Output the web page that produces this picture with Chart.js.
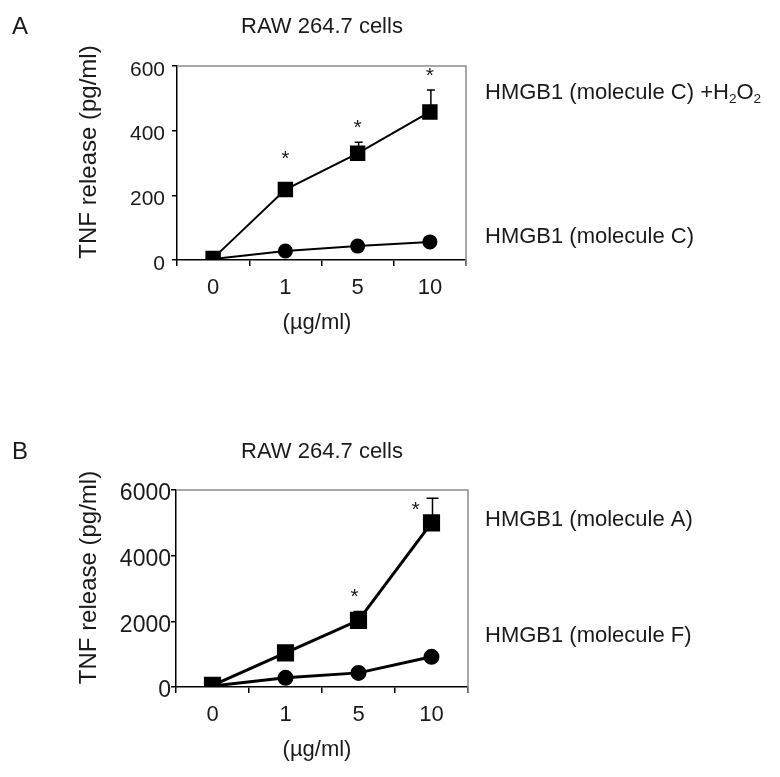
<!DOCTYPE html>
<html>
<head>
<meta charset="utf-8">
<script src="https://cdn.jsdelivr.net/npm/chart.js@4.4.0/dist/chart.umd.min.js"></script>
<style>
body { margin: 0; background: #fff; width: 780px; height: 777px; position: relative; overflow: hidden; }
canvas { position: absolute; left: 0; }
#chartA { top: 0; }
#chartB { top: 390px; }
</style>
</head>
<body>
<canvas id="chartA" width="780" height="390"></canvas>
<canvas id="chartB" width="780" height="387"></canvas>
<script>
// doses on the x axis (µg/ml)
const doses = ['0', '1', '5', '10'];

// panel A - TNF release (pg/ml)
const molC_H2O2 = [5, 218, 330, 458];
const molC_H2O2_err = [0, 0, 34, 68];
const molC = [3, 28, 43, 56];
const starsA = [false, true, true, true];
const ticksA = [0, 200, 400, 600];

// panel B - TNF release (pg/ml)
const molA = [50, 1040, 2030, 5000];
const molA_err = [0, 0, 270, 750];
const molF = [30, 280, 430, 920];
const starsB = [false, false, true, true];
const ticksB = [0, 2000, 4000, 6000];

const FONT = "'Liberation Sans', Arial, sans-serif";
const INK = '#1a1a1a';

// text with a subscript part, e.g. H2O2
function drawRich(ctx, parts, x, y, size) {
    let cx = x;
    parts.forEach(p => {
        const s = p.sub ? size * 0.62 : size;
        ctx.font = `${s}px ${FONT}`;
        ctx.fillText(p.t, cx, p.sub ? y + size * 0.28 : y);
        cx += ctx.measureText(p.t).width;
    });
}

// frame, error bars, asterisks and labels
const extras = {
    id: 'extras',
    afterDraw(chart, args, o) {
        const {ctx, chartArea: a, scales: {x, y}} = chart;
        ctx.save();
        ctx.strokeStyle = '#8c8c8c';
        ctx.lineWidth = 1.5;
        ctx.beginPath();
        ctx.moveTo(a.left, a.top);
        ctx.lineTo(a.right, a.top);
        ctx.lineTo(a.right, a.bottom + 6);
        ctx.stroke();

        // error bars on the upper series
        ctx.strokeStyle = '#000';
        ctx.lineWidth = 1.5;
        o.values.forEach((v, i) => {
            const e = o.errors[i];
            if (!e) return;
            const px = x.getPixelForValue(i) + 1;
            const y1 = y.getPixelForValue(v + e);
            ctx.beginPath();
            ctx.moveTo(px, y.getPixelForValue(v));
            ctx.lineTo(px, y1);
            ctx.moveTo(px - o.cap, y1);
            ctx.lineTo(px + o.cap, y1);
            ctx.stroke();
        });

        // significance stars
        ctx.fillStyle = INK;
        ctx.font = `21px ${FONT}`;
        ctx.textAlign = 'center';
        ctx.textBaseline = 'middle';
        o.stars.forEach((s, i) => {
            if (!s) return;
            const n = o.starNudge[i] || [0, 0];
            const top = y.getPixelForValue(o.values[i] + o.errors[i]) - (o.errors[i] ? 0 : 16);
            ctx.fillText('*', x.getPixelForValue(i) + n[0], top - 14 + n[1]);
        });

        // panel letter and title
        ctx.textAlign = 'left';
        ctx.font = `24px ${FONT}`;
        ctx.fillText(o.letter, 12, o.titleY);
        ctx.textAlign = 'center';
        ctx.font = `22px ${FONT}`;
        ctx.fillText('RAW 264.7 cells', 322, o.titleY);

        // axis titles
        ctx.font = `22px ${FONT}`;
        ctx.fillText('(µg/ml)', 317, a.bottom + 63);
        ctx.save();
        ctx.translate(89, (a.top + a.bottom) / 2 - 11);
        ctx.rotate(-Math.PI / 2);
        ctx.font = `24px ${FONT}`;
        ctx.fillText('TNF release (pg/ml)', 0, 0);
        ctx.restore();

        // series names
        ctx.textAlign = 'left';
        o.names.forEach(n => drawRich(ctx, n.parts, 485, n.y, 22));
        ctx.restore();
    }
};

function makeChart(id, upper, upperErr, lower, stars, ticks, panel) {
    const yMax = ticks[ticks.length - 1];
    return new Chart(document.getElementById(id), {
        type: 'line',
        data: {
            labels: doses,
            datasets: [{
                data: upper,
                borderColor: '#000',
                backgroundColor: '#000',
                borderWidth: panel.lw,
                pointStyle: 'rect',
                pointRadius: panel.sq,
                tension: 0
            }, {
                data: lower,
                borderColor: '#000',
                backgroundColor: '#000',
                borderWidth: panel.lw,
                pointStyle: 'circle',
                pointRadius: panel.dot,
                tension: 0
            }]
        },
        options: {
            responsive: false,
            animation: false,
            devicePixelRatio: 1,
            layout: { padding: panel.pad },
            plugins: {
                legend: { display: false },
                tooltip: { enabled: false },
                extras: {
                    values: upper,
                    errors: upperErr,
                    stars: stars,
                    starNudge: panel.starNudge,
                    cap: panel.cap,
                    letter: panel.letter,
                    titleY: panel.titleY,
                    names: panel.names
                }
            },
            scales: {
                x: {
                    offset: true,
                    afterFit: s => { s.height = 40; },
                    grid: { drawOnChartArea: false, tickLength: 6, color: '#000', lineWidth: 1.5, offset: true },
                    border: { color: '#000', width: 1.5 },
                    ticks: { color: INK, font: { family: FONT, size: 22 }, padding: 9 }
                },
                y: {
                    min: 0,
                    max: yMax,
                    afterFit: s => { s.width = panel.yw; },
                    afterBuildTicks: s => { s.ticks = ticks.map(v => ({ value: v })); },
                    grid: { drawOnChartArea: false, tickLength: 5, color: '#000', lineWidth: 1.5 },
                    border: { color: '#000', width: 1.5 },
                    ticks: {
                        color: INK,
                        font: { family: FONT, size: panel.tickSize },
                        padding: panel.tickPad,
                        labelOffset: 4,
                        callback: v => String(v)
                    }
                }
            }
        },
        plugins: [extras]
    });
}

makeChart('chartA', molC_H2O2, molC_H2O2_err, molC, starsA, ticksA, {
    lw: 2, sq: 9.5, dot: 6.5, cap: 4,
    tickSize: 21, tickPad: 7,
    pad: { left: 0, right: 314, top: 66, bottom: 90 },
    yw: 177,
    letter: 'A', titleY: 27,
    starNudge: [],
    names: [
        { y: 93, parts: [{ t: 'HMGB1 (molecule C) +H' }, { t: '2', sub: true }, { t: 'O' }, { t: '2', sub: true }] },
        { y: 237, parts: [{ t: 'HMGB1 (molecule C)' }] }
    ]
});

makeChart('chartB', molA, molA_err, molF, starsB, ticksB, {
    lw: 3, sq: 10, dot: 6.5, cap: 6,
    tickSize: 23, tickPad: 0,
    pad: { left: 0, right: 312, top: 100, bottom: 50 },
    yw: 176,
    letter: 'B', titleY: 62,
    starNudge: [null, null, [-4, 0], [-16, 26]],
    names: [
        { y: 130, parts: [{ t: 'HMGB1 (molecule A)' }] },
        { y: 246, parts: [{ t: 'HMGB1 (molecule F)' }] }
    ]
});
</script>
</body>
</html>
